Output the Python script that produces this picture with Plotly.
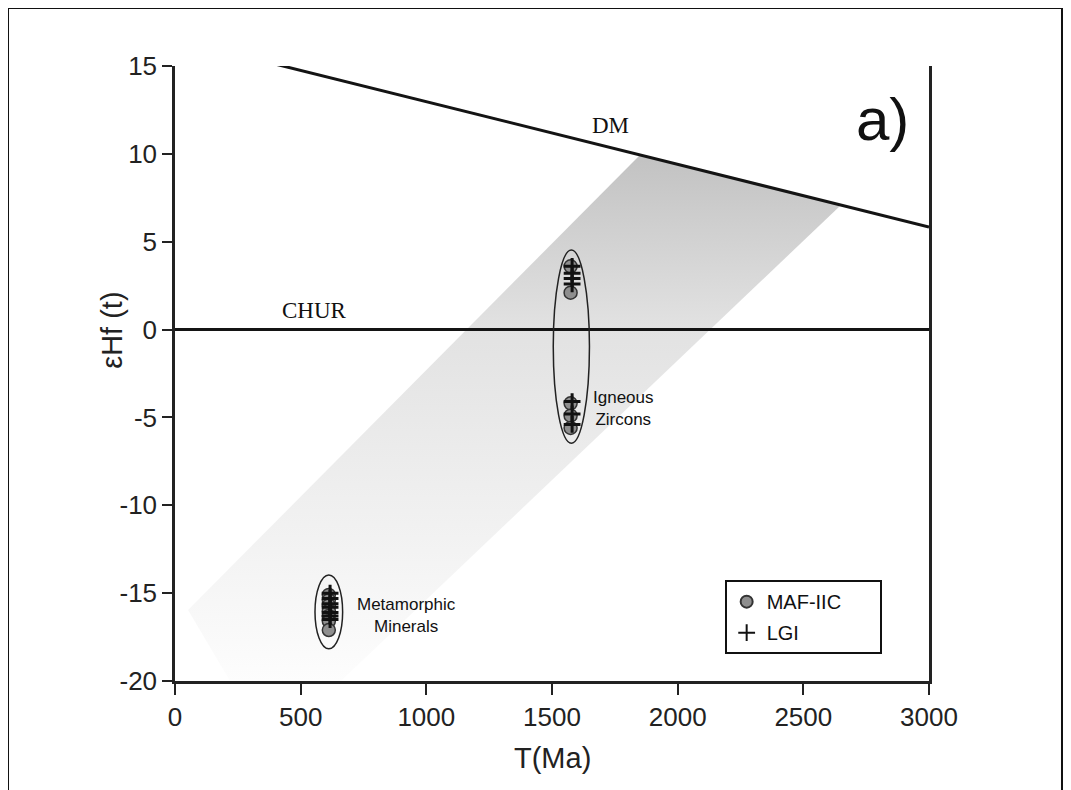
import plotly.graph_objects as go

# ---- data ----
dm_t = [0, 3000]
dm_eps = [16.53, 5.84]
chur_t = [0, 3000]
chur_eps = [0, 0]

band_t = [52, 1850, 2650, 660, 219, 52]
band_eps = [-15.96, 9.94, 7.09, -20, -20, -15.96]

maf_t = [1574, 1574, 1574, 1574, 1574,
         612, 612, 612, 612, 612, 612, 612]
maf_eps = [3.6, 2.1, -4.2, -4.9, -5.6,
           -15.1, -15.4, -15.7, -16.0, -16.3, -16.6, -17.1]

lgi_t = [1580, 1580, 1580, 1580, 1580, 1580, 1580,
         617, 617, 617, 617, 617, 617, 617]
lgi_eps = [3.6, 3.2, 2.9, 2.6, -4.1, -4.8, -5.4,
           -15.0, -15.3, -15.6, -15.8, -16.1, -16.3, -16.5]

ell_cx = [1577, 612]
ell_cy = [-0.97, -16.07]
ell_hw = [72, 55]
ell_hh = [5.5, 2.1]

x_ticks = [0, 500, 1000, 1500, 2000, 2500, 3000]
x_labels = ["0", "500", "1000", "1500", "2000", "2500", "3000"]
y_ticks = [-20, -15, -10, -5, 0, 5, 10, 15]
y_labels = ["-20", "-15", "-10", "-5", "0", "5", "10", "15"]

FONT = "Liberation Sans, Arial, sans-serif"
SERIF = "Liberation Serif, Times New Roman, serif"
PAD = "\u00a0" * 6

fig = go.Figure()

fig.add_trace(go.Scatter(
    x=band_t, y=band_eps, mode="lines", fill="toself",
    line=dict(width=0, color="rgba(0,0,0,0)"),
    fillgradient=dict(type="vertical", start=-20, stop=9.94,
                      colorscale=[[0, "#fdfdfd"], [0.67, "#e2e2e2"], [1, "#c2c2c2"]]),
    showlegend=False, hoverinfo="skip"))

fig.add_trace(go.Scatter(x=dm_t, y=dm_eps, mode="lines",
                         line=dict(color="#141414", width=3),
                         showlegend=False, hoverinfo="skip"))
fig.add_trace(go.Scatter(x=chur_t, y=chur_eps, mode="lines",
                         line=dict(color="#141414", width=3),
                         showlegend=False, hoverinfo="skip"))

fig.add_trace(go.Scatter(
    x=maf_t, y=maf_eps, mode="markers", name="MAF-IIC" + PAD, legendgroup="a",
    marker=dict(symbol="circle", size=13, color="#8e8e8e",
                line=dict(color="#333333", width=1.5))))
fig.add_trace(go.Scatter(
    x=lgi_t, y=lgi_eps, mode="markers", name="LGI", legendgroup="b",
    marker=dict(symbol="cross-thin", size=12, color="#111111",
                line=dict(color="#111111", width=3))))

shapes = []
for cx, cy, hw, hh in zip(ell_cx, ell_cy, ell_hw, ell_hh):
    shapes.append(dict(type="circle", xref="x", yref="y",
                       x0=cx - hw, x1=cx + hw, y0=cy - hh, y1=cy + hh,
                       line=dict(color="#222222", width=1.5)))
# outer frame
shapes.append(dict(type="rect", xref="paper", yref="paper",
                   x0=-0.2228, x1=1.1777, y0=-0.3, y1=1.0959,
                   line=dict(color="#111111", width=4), layer="below"))

annotations = [
    dict(x=1731, y=11.64, xref="x", yref="y", text="DM", showarrow=False,
         font=dict(family=SERIF, size=23, color="#111")),
    dict(x=557, y=1.11, xref="x", yref="y", text="CHUR", showarrow=False,
         font=dict(family=SERIF, size=23, color="#111")),
    dict(x=2813, y=11.93, xref="x", yref="y", text="a)", showarrow=False,
         font=dict(family=FONT, size=60, color="#111")),
    dict(x=1786, y=-4.52, xref="x", yref="y", text="Igneous<br>Zircons",
         showarrow=False, align="center",
         font=dict(family=FONT, size=17, color="#111")),
    dict(x=923, y=-16.3, xref="x", yref="y", text="Metamorphic<br>Minerals",
         showarrow=False, align="center",
         font=dict(family=FONT, size=17, color="#111")),
    dict(x=0.5, y=-0.125, xref="paper", yref="paper", text="T(Ma)",
         xanchor="center", yanchor="middle",
         showarrow=False, font=dict(family=FONT, size=29, color="#222")),
    dict(x=-0.0836, y=0.571, xref="paper", yref="paper", text="εHf (t)",
         xanchor="center", yanchor="middle",
         showarrow=False, textangle=-90,
         font=dict(family=FONT, size=29, color="#222")),
]

fig.update_layout(
    width=1071, height=790,
    margin=dict(l=167, r=150, t=58, b=117),
    paper_bgcolor="white", plot_bgcolor="white",
    shapes=shapes, annotations=annotations,
    legend=dict(x=0.729, y=0.164, xanchor="left", yanchor="top",
                bgcolor="white", bordercolor="#111", borderwidth=2,
                font=dict(family=FONT, size=20, color="#111"),
                itemsizing="constant", tracegroupgap=2, traceorder="grouped"),
    hovermode=False,
)
fig.update_xaxes(range=[0, 3000], tickvals=x_ticks, ticktext=x_labels,
                 showgrid=False, zeroline=False,
                 showline=True, linecolor="#222", linewidth=2.5,
                 ticks="outside", ticklen=11, tickwidth=2, tickcolor="#222",
                 tickfont=dict(family=FONT, size=26, color="#222"))
fig.update_yaxes(range=[-20, 15], tickvals=y_ticks, ticktext=y_labels,
                 showgrid=False, zeroline=False,
                 showline=True, linecolor="#222", linewidth=2.5, mirror=True,
                 ticks="outside", ticklen=10, tickwidth=2, tickcolor="#222",
                 tickfont=dict(family=FONT, size=26, color="#222"))

fig.write_html("out.html")
